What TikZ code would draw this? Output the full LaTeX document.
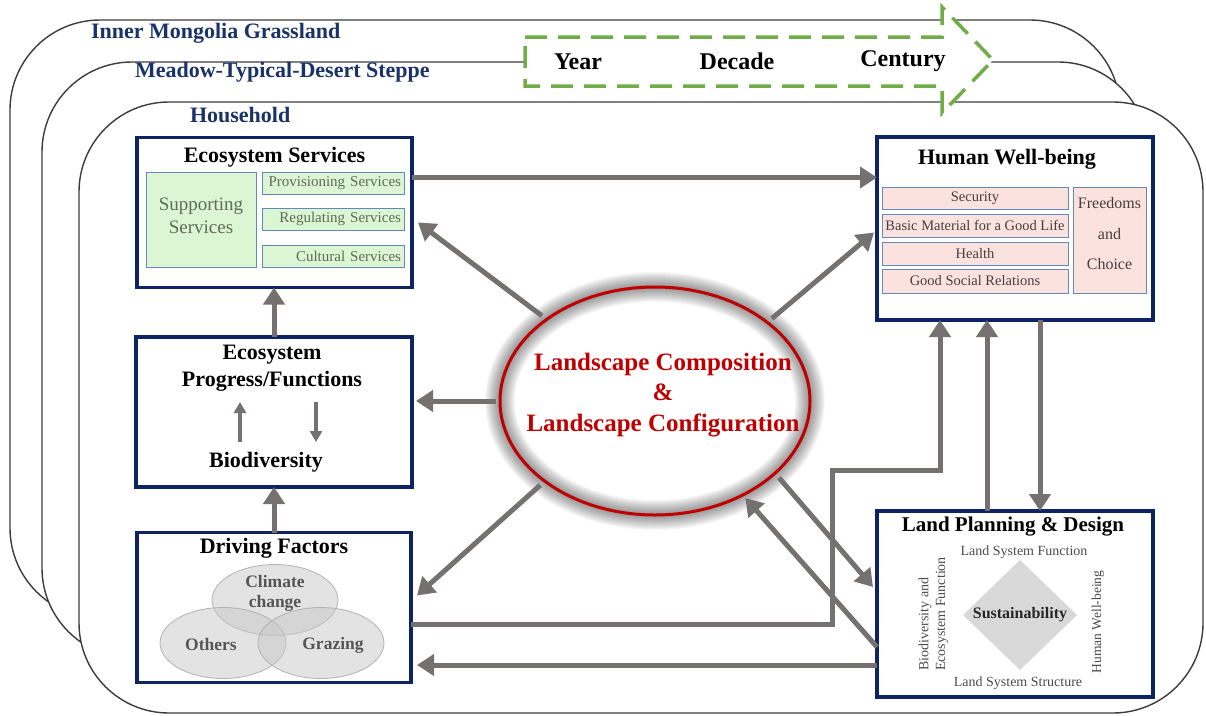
\documentclass[tikz,border=0pt]{standalone}
\usepackage{fontspec}
\setmainfont{Liberation Serif}
\usetikzlibrary{arrows.meta,shapes.geometric}

\definecolor{navy}{RGB}{12,36,100}
\definecolor{labelblue}{RGB}{25,50,105}
\definecolor{arrowgray}{RGB}{118,113,113}
\definecolor{layerline}{RGB}{60,60,60}
\definecolor{dashgreen}{RGB}{112,173,71}
\definecolor{svcfill}{RGB}{220,245,210}
\definecolor{svcborder}{RGB}{100,135,190}
\definecolor{svctext}{RGB}{95,108,90}
\definecolor{wbfill}{RGB}{252,226,222}
\definecolor{wbtext}{RGB}{70,62,62}
\definecolor{lred}{RGB}{192,0,0}
\definecolor{venngray}{RGB}{200,200,200}
\definecolor{venntext}{RGB}{85,85,85}
\definecolor{diamondgray}{RGB}{217,217,217}
\definecolor{plaingray}{RGB}{75,75,75}

\tikzset{
  every node/.style={inner sep=0pt, outer sep=0pt},
  layer/.style={draw=layerline, line width=1.4pt, fill=white, rounded corners=90pt},
  layerlabel/.style={anchor=west, text=labelblue, font=\fontsize{22}{26}\selectfont\bfseries},
  timearrow/.style={draw=dashgreen, line width=3.5pt, dash pattern=on 22pt off 11pt, fill=white, line join=miter},
  timelabel/.style={font=\fontsize{24}{28}\selectfont\bfseries},
  box/.style={draw=navy, line width=3.5pt, fill=white},
  title/.style={font=\fontsize{22}{27}\selectfont\bfseries, align=center},
  svc/.style={draw=svcborder, line width=1pt, fill=svcfill},
  svcline/.style={svc, text=svctext, font=\fontsize{15}{18}\selectfont, text width=136pt, align=right, inner xsep=3pt, minimum height=22pt},
  wb/.style={draw=svcborder, line width=1pt, fill=wbfill},
  wbline/.style={wb, text=wbtext, font=\fontsize{14.5}{17}\selectfont, minimum width=186pt, align=center},
  vennset/.style={ellipse, draw=gray!60, line width=0.8pt, fill=venngray, fill opacity=0.5, minimum width=126pt, minimum height=71pt},
  venntxt/.style={text=venntext, font=\fontsize{17.5}{20}\selectfont\bfseries, align=center},
  lpdtxt/.style={text=plaingray, font=\fontsize{14}{17}\selectfont},
  flow/.style={draw=arrowgray, line width=5pt, -{Triangle[length=17pt,width=21pt]}},
  smallflow/.style={draw=arrowgray, line width=3.5pt, -{Triangle[length=11pt,width=12pt]}},
  lctext/.style={text=lred, font=\fontsize{25}{30.5}\selectfont\bfseries, align=center}
}

\begin{document}
\begin{tikzpicture}[x=1pt,y=-1pt]
\useasboundingbox (0,0) rectangle (1206,715);

% nested spatial scales
\draw[layer] (10,20) rectangle (1120,618);
\draw[layer] (42,62) rectangle (1148,658);
\draw[layer] (79,102) rectangle (1203,713);
\node[layerlabel] (imgl) at (91,33) {Inner Mongolia Grassland};
\node[layerlabel] (mtds) at (135,72) {Meadow-Typical-Desert Steppe};
\node[layerlabel] (hh) at (190,115) {Household};

% temporal scale arrow
\draw[timearrow] (525,37) -- (942,37) -- (942,7) -- (993,60) -- (942,113) -- (942,86) -- (525,86) -- cycle;
\node[timelabel] (yr) at (578,62) {Year};
\node[timelabel] (dec) at (737,61) {Decade};
\node[timelabel] (cen) at (903,61) {Century};

% main boxes
\node[box, minimum width=275pt, minimum height=150pt] (es) at (274.5,212.5) {};
\node[box, minimum width=276pt, minimum height=183pt] (hwb) at (1015,228.5) {};
\node[box, minimum width=276pt, minimum height=150pt] (epf) at (274,412) {};
\node[box, minimum width=274pt, minimum height=150pt] (df) at (274,607.5) {};
\node[box, minimum width=276pt, minimum height=186pt] (lpd) at (1015,604) {};

% ecosystem services
\node[title] (est) at (274.5,157) {Ecosystem Services};
\node[svc, minimum width=110pt, minimum height=95pt] (sup) at (201,219.5) {};
\node[text=svctext, font=\fontsize{19}{23}\selectfont, align=center] (supt) at (201,216) {Supporting\\Services};
\node[svcline] (prov) at (333,183.5) {Provisioning Services};
\node[svcline] (reg) at (333,219) {Regulating Services};
\node[svcline] (cult) at (333,256) {Cultural Services};

% human well-being
\node[title] (hwbt) at (1007,159) {Human Well-being};
\node[wbline, minimum height=22pt] (sec) at (975,198) {Security};
\node[wbline, minimum height=23pt] (bml) at (975,225.5) {Basic Material for a Good Life};
\node[wbline, minimum height=23pt] (hea) at (975,253.5) {Health};
\node[wbline, minimum height=24pt] (gsr) at (975,281) {Good Social Relations};
\node[wb, minimum width=73pt, minimum height=106pt] (fc) at (1109.5,240) {};
\node[text=wbtext, font=\fontsize{16}{30.5}\selectfont, align=center] (fct) at (1109.5,234) {Freedoms\\and\\Choice};

% ecosystem processes
\node[title] (epft) at (272,368.5) {Ecosystem\\Progress/Functions};
\node[title] (bio) at (266,462) {Biodiversity};
\coordinate (upa) at (240,442);
\coordinate (upb) at (240,402);
\coordinate (dna) at (316,402);
\coordinate (dnb) at (316,442);
\draw[smallflow] (upa) -- (upb);
\draw[smallflow] (dna) -- (dnb);

% driving factors
\node[title] (dft) at (274,548) {Driving Factors};
\node[vennset] (clim) at (275,600) {};
\node[vennset] (oth) at (223,643) {};
\node[vennset] (graz) at (321,643) {};
\node[venntxt] (climt) at (275,593) {Climate\\change};
\node[venntxt] (otht) at (211,645) {Others};
\node[venntxt] (grazt) at (333,645) {Grazing};

% land planning and design
\node[title, font=\fontsize{21}{25}\selectfont\bfseries] (lpdt) at (1013,527) {Land Planning \& Design};
\node[lpdtxt] (lsf) at (1024,552) {Land System Function};
\fill[diamondgray] (1020,560) -- (1077,615) -- (1020,670) -- (963,615) -- cycle;
\node[font=\fontsize{16}{19}\selectfont\bfseries, text=black!85] (sust) at (1020,615) {Sustainability};
\node[lpdtxt] (lss) at (1018,683) {Land System Structure};
\node[lpdtxt, rotate=90] (bef1) at (925,624) {Biodiversity and};
\node[lpdtxt, rotate=90] (bef2) at (942,614) {Ecosystem Function};
\node[lpdtxt, rotate=90, font=\fontsize{13.5}{16}\selectfont] (hwbr) at (1098,622) {Human Well-being};

% landscape ellipse with soft glow
\fill[white] (655,401) ellipse [x radius=155, y radius=114];
\foreach \w in {30,28,...,2}
  \draw[black, opacity=0.03, line width=\w pt] (655,401) ellipse [x radius=155, y radius=114];
\node[ellipse, draw=lred, line width=3pt, minimum width=310pt, minimum height=228pt] (lc) at (655,401) {};
\node[lctext] (lct) at (663,395) {Landscape Composition\\\&\\Landscape Configuration};

% connectors
\draw[flow] ([yshift=35pt]es.east) -- ([yshift=35pt]es.east -| hwb.west);
\draw[flow, shorten <=6pt] (lc.143) -- ([xshift=6pt,yshift=-10pt]es.east);
\draw[flow, shorten <=6pt] (lc.35) -- ([xshift=-3pt,yshift=-4pt]hwb.west);
\draw[flow, shorten <=4pt] (lc.west) -- ([xshift=4pt]lc.west -| epf.east);
\draw[flow] (epf.north) -- (epf.north |- es.south);
\draw[flow] (df.north) -- (df.north |- epf.south);
\draw[flow, shorten <=6pt] (lc.216) -- ([xshift=6pt,yshift=12pt]df.east);
\draw[flow, shorten <=6pt] (lc.329) -- ([xshift=-4pt,yshift=17pt]lpd.west);
\draw[flow, shorten >=4pt] ([yshift=-43pt]lpd.west) -- (lc.313);
\coordinate (bend) at (832,470);
\draw[flow] ([yshift=-16.5pt]df.east) -| (bend) -| ([xshift=-75pt]hwb.south);
\draw[flow] ([xshift=-28pt]lpd.north) -- ([xshift=-28pt]hwb.south);
\draw[flow] ([xshift=25pt]hwb.south) -- ([xshift=25pt]lpd.north);
\draw[flow] ([yshift=-61pt]lpd.west) -- ([xshift=6pt,yshift=-57.5pt]df.east);
\end{tikzpicture}
\end{document}
